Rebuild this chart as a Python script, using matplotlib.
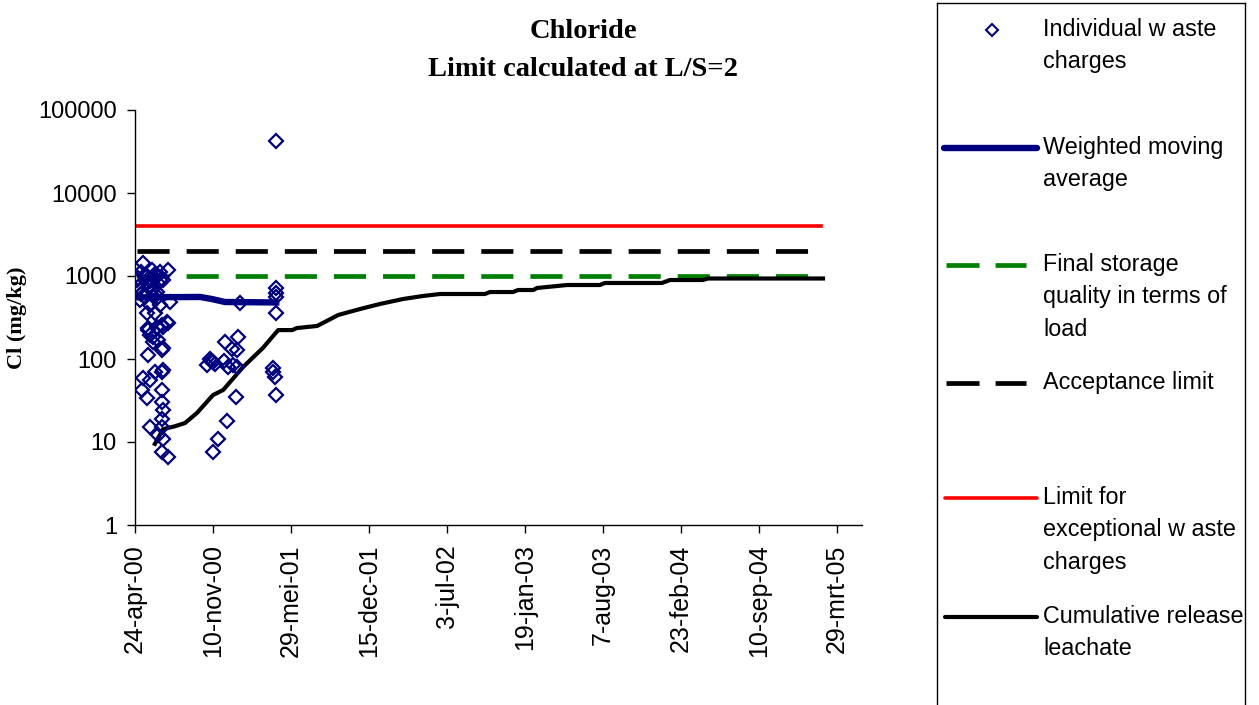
import matplotlib.pyplot as plt
import numpy as np
from matplotlib.ticker import NullLocator

# days counted from 24-apr-00 (start of the x axis)
start = np.datetime64('2000-04-24')

# individual waste charges (mg/kg)
charge_day = [21, 8, 26, 64, 72, 8, 38, 13, 38, 64, 31, 51, 82, 72, 33, 38, 90, 85,
              85, 69, 56, 33, 46, 59, 72, 33, 69, 46, 21, 38, 51, 69, 72, 18, 31, 69,
              69, 72, 69, 38, 69, 59, 72, 69, 85,
              15, 44, 51, 59, 31, 15, 46, 56, 5, 26, 44, 56, 64, 31, 51, 38, 21, 46, 26, 59,
              362, 269, 362, 362, 362, 362, 264, 231, 249, 262, 192, 185, 200, 238, 262,
              251, 354, 359, 354, 259, 362, 236, 213, 200, 195, 205, 228]
charge_val = [1435, 946, 973, 1117, 895, 737, 737, 514, 448, 448, 358, 358, 279, 243, 236, 195, 486, 1181,
              272, 257, 243, 223, 184, 169, 136, 112, 128, 160, 59, 56, 70, 70, 74, 42, 34, 42,
              30, 24, 19, 15, 15, 12, 11, 7.6, 6.6,
              1117, 1181, 946, 824, 824, 607, 574, 641, 895, 1020, 900, 1000, 900, 1000, 1050, 870, 640, 700, 560, 560,
              42000, 473, 624, 559, 358, 717, 184, 160, 132, 128, 100, 85, 92, 80, 80,
              85, 78, 61, 70, 35, 37, 18, 11, 7.6, 95, 88, 95]

# weighted moving average
wma_day = [5, 167, 197, 231, 362]
wma_val = [553, 559, 528, 486, 480]

# cumulative release leachate
cum_day = [51, 72, 103, 128, 159, 200, 226, 277, 328, 367, 403, 415, 467, 521, 577, 628,
           687, 738, 782, 897, 910, 969, 982, 1021, 1031, 1108, 1192, 1205, 1351, 1372,
           1456, 1469, 1764]
cum_val = [9.5, 14.3, 15.5, 16.9, 22.4, 36.8, 42.3, 80, 136, 223, 223, 236, 250, 339, 400, 460,
           528, 574, 607, 607, 641, 641, 678, 678, 717, 779, 779, 824, 824, 895,
           895, 933, 933]

# limits
limit_day = [5, 1759]
final_storage = 1000
acceptance = 2000
exceptional = 4000
dash_day = [5, 1726]

tick_day = np.arange(0, 2000, 200)
tick_labels = ['24-apr-00', '10-nov-00', '29-mei-01', '15-dec-01', '3-jul-02',
               '19-jan-03', '7-aug-03', '23-feb-04', '10-sep-04', '29-mrt-05']
yticks = [1, 10, 100, 1000, 10000, 100000]


def to_dates(days):
    return start + np.array(days).astype('timedelta64[D]')


plt.rcParams['font.family'] = ['Liberation Sans', 'DejaVu Sans']

fig = plt.figure(figsize=(12.59, 7.05), dpi=100)
ax = fig.add_axes([135 / 1259, 180 / 705, 727 / 1259, 415 / 705])

navy = '#000080'
green = '#008000'
dash = (6.8, 3.6)

ax.plot(to_dates(limit_day), [exceptional] * 2, color='#ff0000', lw=2.6, zorder=2)
ax.plot(to_dates(dash_day), [acceptance] * 2, color='black', lw=3.4, dashes=dash, zorder=2)
ax.plot(to_dates(dash_day), [final_storage] * 2, color=green, lw=3.4, dashes=dash, zorder=2)
ax.plot(to_dates(cum_day), cum_val, color='black', lw=3.0, zorder=3)
ax.plot(to_dates(wma_day), wma_val, color=navy, lw=4.6, zorder=4)
ax.plot(to_dates(charge_day), charge_val, ls='none', marker='D', ms=7, mfc='none',
        mec=navy, mew=1.6, zorder=5)

ax.set_yscale('log')
ax.set_ylim(1, 100000)
ax.set_yticks(yticks)
ax.set_yticklabels([str(v) for v in yticks])
ax.yaxis.set_minor_locator(NullLocator())

ax.set_xlim(to_dates([0])[0], to_dates([1864])[0])
ax.set_xticks(to_dates(tick_day))
ax.set_xticklabels(tick_labels, rotation=90)

for side in ['top', 'right']:
    ax.spines[side].set_visible(False)
for side in ['left', 'bottom']:
    ax.spines[side].set_linewidth(1.0)
ax.tick_params(direction='out', length=6, width=1, labelsize=17, pad=7)
ax.tick_params(axis='x', labelsize=18, pad=8)

ax.set_ylabel('Cl (mg/kg)', family='Liberation Serif', fontweight='bold', fontsize=16, labelpad=8)

fig.text(583 / 1259, 1 - 32 / 705, 'Chloride', family='Liberation Serif', fontweight='bold',
         fontsize=20.5, ha='center', va='center')
fig.text(583 / 1259, 1 - 70 / 705, 'Limit calculated at L/S=2', family='Liberation Serif',
         fontweight='bold', fontsize=20.5, ha='center', va='center')

# legend panel on the right, laid out in pixel coordinates
lg = fig.add_axes([937 / 1259, -0.02, 308 / 1259, 1 - 3 / 705 + 0.02])
lg.set_xlim(937, 1245)
lg.set_ylim(705 + 14, 3)
lg.set_xticks([])
lg.set_yticks([])
for s in lg.spines.values():
    s.set_linewidth(1.0)

entries = [
    ('Individual w aste\ncharges', 30),
    ('Weighted moving\naverage', 148),
    ('Final storage\nquality in terms of\nload', 265),
    ('Acceptance limit', 383),
    ('Limit for\nexceptional w aste\ncharges', 498),
    ('Cumulative release\nleachate', 617),
]
lg.plot([992], [30], ls='none', marker='D', ms=6, mfc='none', mec=navy, mew=1.5)
lg.plot([944, 1037], [148, 148], color=navy, lw=4.6, solid_capstyle='round')
lg.plot([946, 1026], [265, 265], color=green, lw=3.4, dashes=(7.0, 3.4))
lg.plot([946, 1026], [383, 383], color='black', lw=3.4, dashes=(7.0, 3.4))
lg.plot([945, 1037], [498, 498], color='#ff0000', lw=2.6, solid_capstyle='round')
lg.plot([945, 1037], [617, 617], color='black', lw=3.0, solid_capstyle='round')
for label, y in entries:
    lg.text(1043, y - 12, label, fontsize=16.8, ha='left', va='top', linespacing=1.52)

fig.savefig('out.png', dpi=100)
